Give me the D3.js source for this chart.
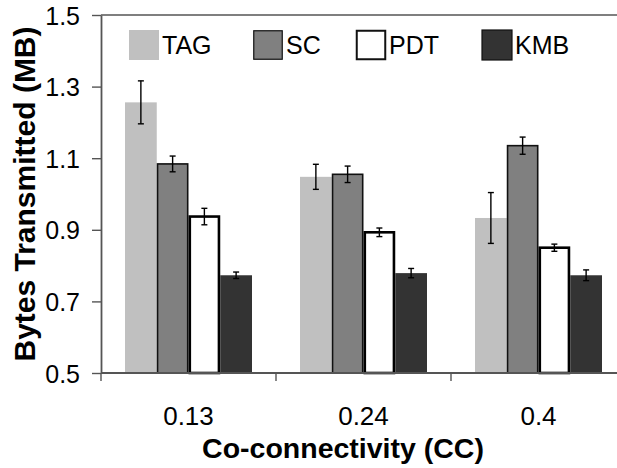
<!DOCTYPE html>
<html>
<head>
<meta charset="utf-8">
<script src="https://cdn.jsdelivr.net/npm/d3@7"></script>
<style>
  html, body { margin: 0; padding: 0; background: #fff; }
  svg { display: block; font-family: "Liberation Sans", Arial, sans-serif; }
</style>
</head>
<body>
<svg id="chart" width="617" height="468"></svg>
<script>
const categories = ["0.13", "0.24", "0.4"];
const seriesNames = ["TAG", "SC", "PDT", "KMB"];
const tagValues = [1.256, 1.048, 0.933];
const tagErrors = [0.060, 0.035, 0.071];
const scValues = [1.084, 1.055, 1.135];
const scErrors = [0.022, 0.023, 0.024];
const pdtValues = [0.937, 0.893, 0.850];
const pdtErrors = [0.023, 0.012, 0.010];
const kmbValues = [0.773, 0.779, 0.773];
const kmbErrors = [0.009, 0.013, 0.015];
const yTicks = [0.5, 0.7, 0.9, 1.1, 1.3, 1.5];

const seriesValues = [tagValues, scValues, pdtValues, kmbValues];
const seriesErrors = [tagErrors, scErrors, pdtErrors, kmbErrors];
const fills = ["#c0c0c0", "#808080", "#ffffff", "#333333"];
const strokes = ["none", "#111", "#000", "none"];
const strokeW = [0, 1.6, 2.6, 0];
const FONT = "'Liberation Sans', Arial, sans-serif";

const svg = d3.select("#chart");
const mLeft = 101, mTop = 15, mBottom = 373, mRight = 626;

const x0 = d3.scaleBand().domain(categories).range([mLeft, mRight]).padding(0);
const x1 = d3.scaleBand().domain(seriesNames).range([24, x0.bandwidth() - 24]).padding(0);
const y = d3.scaleLinear().domain([0.5, 1.5]).range([mBottom, mTop]);

const data = [];
categories.forEach((c, ci) => {
  seriesNames.forEach((s, si) => {
    data.push({c, s, si, v: seriesValues[si][ci], e: seriesErrors[si][ci]});
  });
});

const g = svg.append("g");
g.selectAll("rect.bar").data(data).enter().append("rect")
  .attr("class", "bar")
  .attr("x", d => x0(d.c) + x1(d.s) + strokeW[d.si] / 2)
  .attr("y", d => y(d.v))
  .attr("width", d => x1.bandwidth() - strokeW[d.si])
  .attr("height", d => y(0.5) - y(d.v))
  .attr("fill", d => fills[d.si])
  .attr("stroke", d => strokes[d.si])
  .attr("stroke-width", d => strokeW[d.si]);

const eb = g.selectAll("g.err").data(data).enter().append("g").attr("class", "err")
  .attr("stroke", "#000").attr("stroke-width", 1.4);
eb.append("line")
  .attr("x1", d => x0(d.c) + x1(d.s) + x1.bandwidth() / 2)
  .attr("x2", d => x0(d.c) + x1(d.s) + x1.bandwidth() / 2)
  .attr("y1", d => y(d.v + d.e)).attr("y2", d => y(d.v - d.e));
[1, -1].forEach(sign => {
  eb.append("line")
    .attr("x1", d => x0(d.c) + x1(d.s) + x1.bandwidth() / 2 - 3)
    .attr("x2", d => x0(d.c) + x1(d.s) + x1.bandwidth() / 2 + 3)
    .attr("y1", d => y(d.v + sign * d.e)).attr("y2", d => y(d.v + sign * d.e));
});

svg.append("line").attr("x1", mLeft).attr("x2", 617).attr("y1", mTop).attr("y2", mTop)
  .attr("stroke", "#555").attr("stroke-width", 1.6);

const yAxis = d3.axisLeft(y).tickValues(yTicks).tickFormat(d3.format(".1f")).tickSize(9).tickSizeOuter(0);
const ya = svg.append("g").attr("transform", `translate(${mLeft},0)`).call(yAxis);
ya.select(".domain").attr("stroke", "#555").attr("stroke-width", 1.8);
ya.selectAll(".tick line").attr("stroke", "#555").attr("stroke-width", 1.4);
ya.selectAll(".tick text").attr("font-size", 25).attr("font-family", FONT)
  .attr("fill", "#000").attr("x", -21).attr("dy", "0.36em");

const xa = svg.append("g").attr("transform", `translate(0,${mBottom})`);
xa.append("line").attr("x1", mLeft).attr("x2", 617).attr("y1", 0).attr("y2", 0)
  .attr("stroke", "#555").attr("stroke-width", 1.8);
const bounds = categories.map(c => x0(c)).concat([x0(categories[categories.length - 1]) + x0.bandwidth()]);
xa.selectAll("line.ctick").data(bounds).enter().append("line").attr("class", "ctick")
  .attr("x1", d => d).attr("x2", d => d).attr("y1", 0).attr("y2", 8)
  .attr("stroke", "#555").attr("stroke-width", 1.4);
xa.selectAll("text.clabel").data(categories).enter().append("text").attr("class", "clabel")
  .attr("x", d => x0(d) + x0.bandwidth() / 2).attr("y", 52)
  .attr("text-anchor", "middle").attr("font-size", 26).attr("font-family", FONT).attr("fill", "#000").text(d => d);

svg.append("text").attr("x", 343).attr("y", 458).attr("text-anchor", "middle").attr("font-family", FONT)
  .attr("font-size", 28.5).attr("font-weight", "bold").text("Co-connectivity (CC)");
svg.append("text").attr("transform", "translate(35,194) rotate(-90)").attr("text-anchor", "middle").attr("font-family", FONT)
  .attr("font-size", 30).attr("font-weight", "bold").text("Bytes Transmitted (MB)");

const legX = [129, 253, 356, 482];
const leg = svg.selectAll("g.leg").data(seriesNames).enter().append("g").attr("class", "leg")
  .attr("transform", (d, i) => `translate(${legX[i]},30)`);
leg.append("rect")
  .attr("x", (d, i) => strokeW[i] ? 0.75 : 0).attr("y", (d, i) => strokeW[i] ? 0.75 : 0)
  .attr("width", (d, i) => strokeW[i] ? 28.5 : 30).attr("height", (d, i) => strokeW[i] ? 28.5 : 30)
  .attr("fill", (d, i) => fills[i])
  .attr("stroke", (d, i) => i === 0 ? "none" : "#111")
  .attr("stroke-width", (d, i) => i === 2 ? 2 : (i === 0 ? 0 : 1.2));
leg.append("text").attr("x", 33).attr("y", 23.5).attr("font-size", 25).attr("font-family", FONT)
  .attr("fill", "#000").text(d => d);
</script>
</body>
</html>
